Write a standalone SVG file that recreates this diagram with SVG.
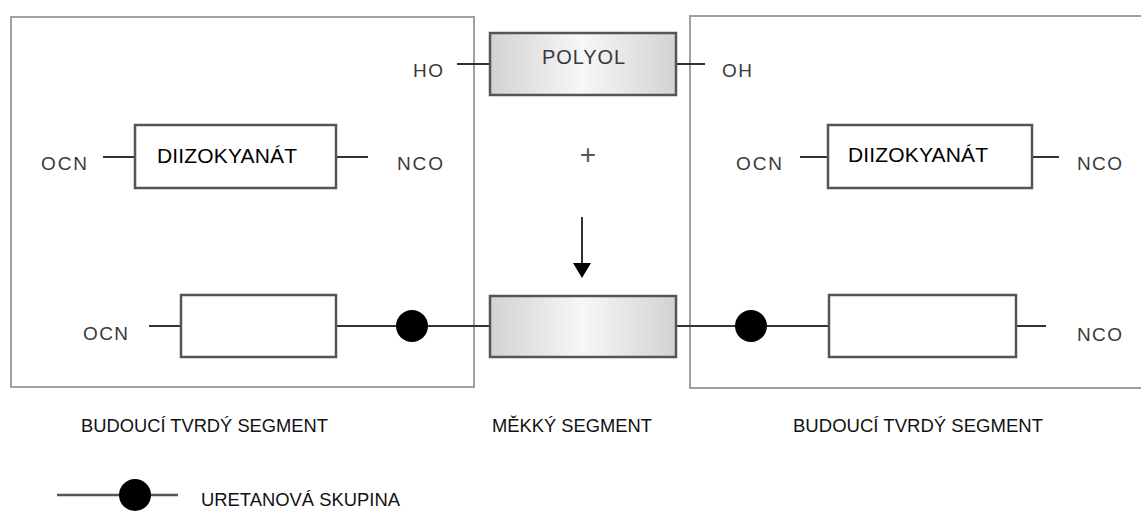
<svg xmlns="http://www.w3.org/2000/svg" width="1141" height="511" viewBox="0 0 1141 511">
<defs>
<linearGradient id="gr" x1="0" y1="0" x2="1" y2="0">
<stop offset="0" stop-color="#d2d2d2"/>
<stop offset="0.5" stop-color="#f7f7f7"/>
<stop offset="1" stop-color="#d2d2d2"/>
</linearGradient>
<style>
.panel{fill:none;stroke:#a0a0a0;stroke-width:2}
.box{fill:#fff;stroke:#555;stroke-width:2.5}
.gbox{fill:url(#gr);stroke:#555;stroke-width:2.5}
.ln{stroke:#333;stroke-width:2;fill:none}
.dot{fill:#000}
.g{font-family:"Liberation Sans",Arial,sans-serif;font-size:19px;fill:#3a3a3a}
.t{font-family:"Liberation Sans",Arial,sans-serif;font-size:21px;fill:#000}
.b{font-family:"Liberation Sans",Arial,sans-serif;font-size:19px;fill:#111}
</style>
</defs>
<rect width="1141" height="511" fill="#fff"/>
<g id="panel-left"><rect class="panel" x="11" y="17" width="463" height="370"/></g>
<g id="panel-right"><rect class="panel" x="690" y="16" width="470" height="372"/></g>
<g id="connectors">
<line class="ln" x1="457" y1="64" x2="490" y2="64"/>
<line class="ln" x1="676" y1="64" x2="705" y2="64"/>
<line class="ln" x1="103" y1="157" x2="135" y2="157"/>
<line class="ln" x1="336" y1="157" x2="368" y2="157"/>
<line class="ln" x1="800" y1="157" x2="828" y2="157"/>
<line class="ln" x1="1032" y1="157" x2="1059" y2="157"/>
<line class="ln" x1="149" y1="326" x2="181" y2="326"/>
<line class="ln" x1="336" y1="326" x2="490" y2="326"/>
<line class="ln" x1="676" y1="326" x2="829" y2="326"/>
<line class="ln" x1="1016" y1="326" x2="1046" y2="326"/>
<line class="ln" x1="582" y1="217" x2="582" y2="264"/>
<polygon points="573,263 591,263 582,278" fill="#000"/>
<line x1="57" y1="495" x2="178" y2="495" stroke="#555" stroke-width="2.5"/>
</g>
<g id="polyol"><rect class="gbox" x="490" y="33" width="186" height="62"/><text class="g" x="542" y="64" style="font-size:20px" textLength="83">POLYOL</text></g>
<g id="ho"><text class="g" x="413" y="77" textLength="30">HO</text></g>
<g id="oh"><text class="g" x="722" y="77" textLength="30">OH</text></g>
<g id="diiz-left"><rect class="box" x="135" y="125" width="201" height="63"/><text class="t" x="157" y="163" textLength="140">DIIZOKYANÁT</text></g>
<g id="ocn-left"><text class="g" x="41" y="170" textLength="46">OCN</text></g>
<g id="nco-left"><text class="g" x="397" y="170" textLength="46">NCO</text></g>
<g id="diiz-right"><rect class="box" x="828" y="125" width="204" height="63"/><text class="t" x="848" y="162" textLength="140">DIIZOKYANÁT</text></g>
<g id="ocn-right"><text class="g" x="736" y="170" textLength="46">OCN</text></g>
<g id="nco-right"><text class="g" x="1077" y="170" textLength="45">NCO</text></g>
<g id="plus"><text class="g" x="588" y="164" style="font-size:28px;fill:#555" text-anchor="middle">+</text></g>
<g id="hard-left"><rect class="box" x="181" y="295" width="155" height="62"/></g>
<g id="ocn-bottom"><text class="g" x="83" y="340" textLength="45">OCN</text></g>
<g id="urethane-left"><circle class="dot" cx="412" cy="326" r="16"/></g>
<g id="soft"><rect class="gbox" x="490" y="296" width="186" height="61"/></g>
<g id="urethane-right"><circle class="dot" cx="751" cy="326" r="16"/></g>
<g id="hard-right"><rect class="box" x="829" y="295" width="187" height="62"/></g>
<g id="nco-bottom"><text class="g" x="1077" y="341" textLength="45">NCO</text></g>
<g id="labels">
<text class="b" x="81" y="432" textLength="247" lengthAdjust="spacingAndGlyphs">BUDOUCÍ TVRDÝ SEGMENT</text>
<text class="b" x="492" y="432" textLength="160" lengthAdjust="spacingAndGlyphs">MĚKKÝ SEGMENT</text>
<text class="b" x="793" y="432" textLength="250" lengthAdjust="spacingAndGlyphs">BUDOUCÍ TVRDÝ SEGMENT</text>
</g>
<g id="legend"><circle class="dot" cx="135" cy="495" r="16"/><text class="b" x="201" y="506" textLength="199" lengthAdjust="spacingAndGlyphs">URETANOVÁ SKUPINA</text></g>
</svg>
